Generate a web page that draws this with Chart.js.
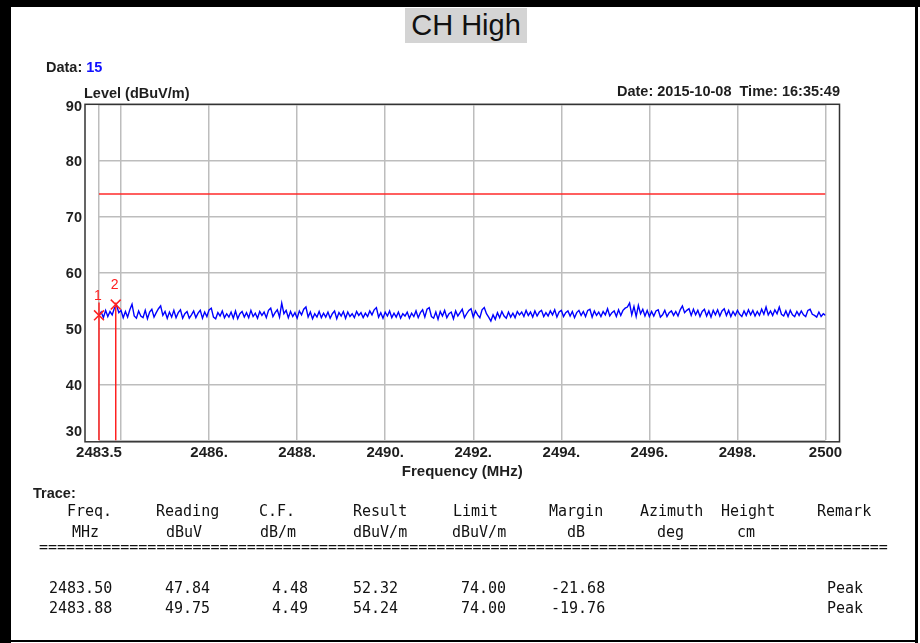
<!DOCTYPE html>
<html>
<head>
<meta charset="utf-8">
<script src="https://cdn.jsdelivr.net/npm/chart.js@4.4.0/dist/chart.umd.min.js"></script>
<style>
html,body{margin:0;padding:0;background:#fff;}
#page{position:relative;width:920px;height:643px;overflow:hidden;background:#fff;font-family:"Liberation Sans",Arial,sans-serif;}
#c{position:absolute;left:0;top:0;}
.bar{position:absolute;background:#000;}
.t{position:absolute;white-space:pre;line-height:1;color:#1e1e1e;}
.b{font-weight:bold;font-size:14.5px;}
.m{font-family:"DejaVu Sans Mono",monospace;font-size:15px;color:#111;}
#title{position:absolute;left:405px;top:8px;width:122px;height:35px;line-height:35px;background:#d4d4d4;text-align:center;font-size:29px;color:#111;}
</style>
</head>
<body>
<div id="page">
  <canvas id="c" width="920" height="643"></canvas>
  <div id="title">CH High</div>
  <div class="t b" style="left:46px;top:60px;">Data: <span style="color:#1010ff">15</span></div>
  <div class="t b" style="left:84px;top:86px;">Level (dBuV/m)</div>
  <div class="t b" id="dateTxt" style="right:80px;top:83.5px;">Date: 2015-10-08  Time: 16:35:49</div>
  <div class="t b" style="left:33px;top:486px;">Trace:</div>
  <div id="table"></div>
  <div class="bar" style="left:0;top:0;width:920px;height:7px;"></div>
  <div class="bar" style="left:0;top:0;width:11px;height:643px;"></div>
  <div class="bar" style="left:915px;top:0;width:3px;height:643px;"></div>
  <div class="bar" style="left:0;top:640px;width:918px;height:2px;"></div>
</div>
<script>
// ---------- data ----------
const freqMin = 2483.5;
const freqMax = 2500;
const levelMin = 30;
const levelMax = 90;
const levelStep = 10;
const xTickValues = [2483.5, 2484, 2486, 2488, 2490, 2492, 2494, 2496, 2498, 2500];
const xTickLabels = ["2483.5", "", "2486.", "2488.", "2490.", "2492.", "2494.", "2496.", "2498.", "2500"];
const limitLevel = 74;
const traceStartMHz = 2483.5;
const traceStepMHz = 0.05;
const traceLevels = [
 52.32,52.9,51.9,53.2,52.1,53.0,52.4,53.6,54.1,52.8,53.2,51.9,53.0,52.0,53.3,54.3,52.2,51.8,53.1,52.2,
 51.9,53.2,51.7,52.9,53.4,52.0,52.8,53.5,54.0,52.3,53.0,51.8,52.9,52.0,53.2,51.9,52.8,53.3,51.8,52.6,
 53.0,51.8,52.4,53.1,51.9,52.7,53.2,51.8,52.9,52.1,53.3,53.6,52.0,51.7,52.8,52.2,53.1,51.9,52.6,52.0,
 52.9,51.8,53.1,51.7,52.6,53.0,52.0,52.8,51.9,53.2,52.1,52.7,51.8,53.0,52.3,52.9,51.9,53.2,53.6,52.1,
 52.8,53.3,52.0,54.5,52.6,53.2,51.9,53.0,52.1,52.8,51.8,53.1,52.4,53.4,53.8,52.0,52.9,51.7,52.6,52.0,
 53.0,51.9,52.7,52.0,52.9,51.8,52.6,53.1,51.7,52.8,52.2,53.0,51.8,52.9,52.1,52.6,51.9,53.0,52.3,52.8,
 51.9,52.7,52.1,53.1,52.4,53.3,53.7,52.0,52.8,51.8,52.9,52.2,53.1,51.9,52.7,52.0,52.9,51.8,52.6,52.2,
 52.9,51.8,52.7,52.1,53.1,51.9,52.8,53.3,52.0,53.4,53.7,52.1,51.8,52.9,51.6,53.0,52.2,53.2,51.9,52.6,
 52.9,51.7,53.1,52.2,52.8,53.4,51.9,52.6,53.2,53.5,52.0,53.1,52.4,51.9,53.3,53.7,52.6,52.0,51.3,52.4,
 51.6,52.8,51.9,53.0,52.2,51.8,52.9,52.0,52.7,51.9,53.0,52.4,52.9,52.1,53.2,52.3,52.9,52.0,53.1,52.2,
 52.9,53.2,52.1,52.8,52.2,53.1,52.4,53.3,52.0,52.9,53.2,52.1,52.8,53.1,52.2,53.0,51.9,52.8,53.2,52.3,
 53.0,52.1,53.2,53.4,52.0,53.1,52.3,52.9,52.1,53.0,52.4,53.5,52.2,52.8,53.1,52.1,53.3,52.3,53.2,53.6,
 53.8,54.5,52.4,53.9,52.1,54.1,52.6,53.4,52.2,53.2,52.1,53.0,52.2,53.1,53.3,52.0,52.4,53.2,52.1,52.8,
 53.1,52.3,53.0,52.2,53.3,54.0,52.8,53.2,53.5,52.3,53.4,52.4,53.2,52.1,53.0,53.4,52.2,53.1,52.0,53.2,
 52.4,53.3,52.2,53.1,53.5,52.3,53.2,52.1,53.0,52.3,53.2,52.5,52.1,53.1,52.3,53.3,52.4,53.2,52.2,53.0,
 52.3,53.4,52.5,53.8,52.4,53.1,52.3,53.3,52.6,53.8,52.5,52.2,53.1,52.1,53.2,52.4,52.1,53.0,52.3,53.1,
 52.4,52.1,53.2,53.4,52.5,52.3,52.0,52.9,52.1,52.6,52.3
];
const markerNo = [1, 2];
const markerFreq = [2483.50, 2483.88];
const markerReading = [47.84, 49.75];
const markerCF = [4.48, 4.49];
const markerResult = [52.32, 54.24];
const markerLimit = [74.00, 74.00];
const markerMargin = [-21.68, -19.76];
const markerAzimuth = ["", ""];
const markerHeight = ["", ""];
const markerRemark = ["Peak", "Peak"];
const headLine1 = ["Freq.", "Reading", "C.F.", "Result", "Limit", "Margin", "Azimuth", "Height", "Remark"];
const headLine2 = ["MHz", "dBuV", "dB/m", "dBuV/m", "dBuV/m", "dB", "deg", "cm", ""];

// ---------- layout (positions only) ----------
const headX1 = [67, 156, 259, 353, 453, 549, 640, 721, 817];
const headX2 = [72, 166, 260, 353, 452, 567, 657, 737, 0];
const valX   = [49, 165, 272, 353, 461, 551, 0, 0, 827];
const rowTop = [580.8, 600.8];

// ---------- table ----------
const tbl = document.getElementById('table');
function addText(txt, x, y) {
  if (txt === "") return;
  const d = document.createElement('div');
  d.className = 't m';
  d.style.left = x + 'px';
  d.style.top = y + 'px';
  d.textContent = txt;
  tbl.appendChild(d);
}
headLine1.forEach((h, i) => addText(h, headX1[i], 504));
headLine2.forEach((h, i) => addText(h, headX2[i], 525));
addText("=".repeat(94), 39, 539.5);
markerFreq.forEach((f, r) => {
  const cells = [f.toFixed(2), markerReading[r].toFixed(2), markerCF[r].toFixed(2), markerResult[r].toFixed(2),
                 markerLimit[r].toFixed(2), markerMargin[r].toFixed(2), markerAzimuth[r], markerHeight[r], markerRemark[r]];
  cells.forEach((c, i) => addText(c, valX[i], rowTop[r]));
});

// ---------- chart ----------
const fontFamily = "'Liberation Sans', Arial, sans-serif";
const boldFont = {family: fontFamily, size: 15, weight: 'bold'};

const framePlugin = {
  id: 'frame',
  afterDraw(chart) {
    const a = chart.chartArea, ctx = chart.ctx;
    ctx.save();
    ctx.strokeStyle = '#333';
    ctx.lineWidth = 1.5;
    ctx.strokeRect(a.left - 14, a.top, (a.right - a.left) + 28, (a.bottom - a.top) + 1.5);
    // y tick labels, kept inside the frame's height like the original report
    const ys = chart.scales.y;
    ctx.fillStyle = '#1e1e1e';
    ctx.font = "bold 14.5px " + fontFamily;
    ctx.textAlign = 'right';
    ctx.textBaseline = 'middle';
    ys.ticks.forEach(t => {
      let y = ys.getPixelForValue(t.value) + 1.3;
      y = Math.max(a.top + 3, Math.min(a.bottom - 8, y));
      ctx.fillText(String(t.value), a.left - 17, y);
    });
    ctx.restore();
  }
};

const markerPlugin = {
  id: 'markerLines',
  afterDatasetsDraw(chart) {
    const xs = chart.scales.x, ys = chart.scales.y, ctx = chart.ctx;
    const pys = markerResult.map(v => ys.getPixelForValue(v));
    const topY = Math.min(...pys) - 2;
    ctx.save();
    ctx.strokeStyle = '#ff2020';
    ctx.fillStyle = '#ff2020';
    ctx.lineWidth = 1.5;
    ctx.font = "14px " + fontFamily;
    ctx.textAlign = 'center';
    ctx.textBaseline = 'middle';
    markerFreq.forEach((f, i) => {
      const px = xs.getPixelForValue(f);
      ctx.beginPath();
      ctx.moveTo(px, topY);
      ctx.lineTo(px, ys.bottom);
      ctx.stroke();
      ctx.fillText(String(markerNo[i]), px - 1, pys[i] - 19.5);
    });
    ctx.restore();
  }
};

new Chart(document.getElementById('c'), {
  type: 'line',
  data: {
    datasets: [
      {
        label: 'Limit',
        data: [{x: freqMin, y: limitLevel}, {x: freqMax, y: limitLevel}],
        borderColor: '#ff2a2a', borderWidth: 1.5, pointRadius: 0, order: 3
      },
      {
        label: 'Trace',
        data: traceLevels.map((v, i) => ({x: traceStartMHz + i * traceStepMHz, y: v})),
        borderColor: '#0000ff', borderWidth: 1.4, pointRadius: 0, tension: 0, order: 2
      },
      {
        label: 'Markers',
        data: markerFreq.map((f, i) => ({x: f, y: markerResult[i]})),
        showLine: false, pointStyle: 'crossRot', pointRadius: 7, clip: false,
        borderColor: '#ff2020', backgroundColor: 'rgba(0,0,0,0)', borderWidth: 1.5, order: 1
      }
    ]
  },
  options: {
    responsive: false,
    animation: false,
    devicePixelRatio: 1,
    layout: {padding: {left: 0, top: 104.3, right: 94.5, bottom: 161.7}},
    plugins: {legend: {display: false}, tooltip: {enabled: false}},
    scales: {
      x: {
        type: 'linear', min: freqMin, max: freqMax,
        afterBuildTicks: s => { s.ticks = xTickValues.map(v => ({value: v})); },
        afterFit: s => { s.height = 41; },
        ticks: {autoSkip: false, maxRotation: 0, padding: 4, color: '#1e1e1e', font: boldFont,
                callback: (v, i) => xTickLabels[i]},
        grid: {color: '#bdbdbd', lineWidth: 1.5, drawTicks: false},
        border: {display: false},
        title: {display: true, text: 'Frequency (MHz)', color: '#1e1e1e', font: boldFont, padding: {top: 0, bottom: 0}}
      },
      y: {
        type: 'linear', min: levelMin, max: levelMax,
        afterFit: s => { s.width = 99; },
        ticks: {stepSize: levelStep, display: false},
        grid: {color: '#bdbdbd', lineWidth: 1.5, drawTicks: false},
        border: {display: false}
      }
    }
  },
  plugins: [framePlugin, markerPlugin]
});
</script>
</body>
</html>
